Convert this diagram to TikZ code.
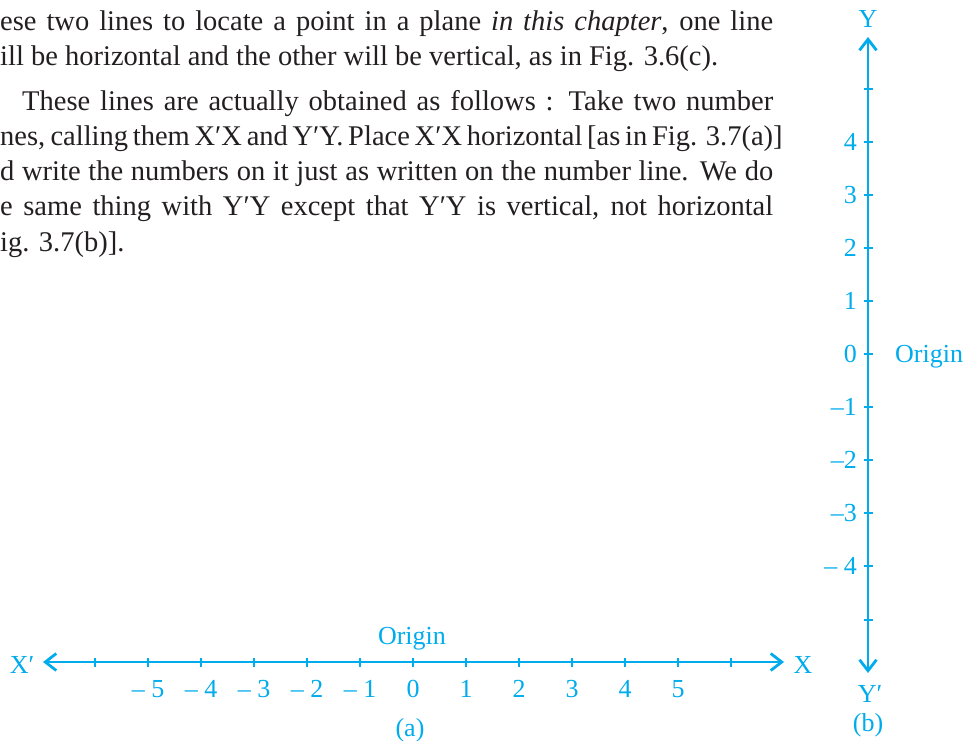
\documentclass[tikz,border=0pt]{standalone}
\usepackage{fontspec}
\setmainfont{Liberation Serif}
\usetikzlibrary{arrows.meta}
\definecolor{cy}{RGB}{0,172,236}
\definecolor{ink}{RGB}{35,31,32}
\newcommand{\bodyfnt}{\fontsize{28.5}{35}\selectfont}
\newcommand{\lblfnt}{\fontsize{26}{26}\selectfont}
\begin{document}
\begin{tikzpicture}[x=1pt,y=-1pt,
  axisline/.style={draw=cy, line width=2.8pt,
    {Straight Barb[length=11pt,width=17pt,line width=2.8pt]}-{Straight Barb[length=11pt,width=17pt,line width=2.8pt]}},
  tickmark/.style={draw=cy, line width=2pt},
  lbl/.style={text=cy, font=\lblfnt, inner sep=0pt},
  bodyline/.style={text=ink, font=\bodyfnt, inner sep=0pt, anchor=base west}]
\useasboundingbox (0,0) rectangle (965,740);

% body text
\node[bodyline] (t1) at (0,30) {\makebox[773pt][s]{ese two lines to locate a point in a plane \textit{in this chapter}, one line}};
\node[bodyline] (t2) at (0,65) {ill be horizontal and the other will be vertical, as in Fig. 3.6(c).};
\node[bodyline] (t3) at (22,110) {\makebox[751pt][s]{These lines are actually obtained as follows : Take two number}};
\node[bodyline] (t4) at (0,145) {\makebox[773pt][s]{nes, calling them X′X and Y′Y. Place X′X horizontal [as in Fig. 3.7(a)]}};
\node[bodyline] (t5) at (0,180) {\makebox[773pt][s]{d write the numbers on it just as written on the number line. We do}};
\node[bodyline] (t6) at (0,215) {\makebox[773pt][s]{e same thing with Y′Y except that Y′Y is vertical, not horizontal}};
\node[bodyline] (t7) at (0,251) {ig. 3.7(b)].};

% horizontal axis (a)
\coordinate (xl) at (43,662);
\coordinate (xr) at (784,662);
\draw[axisline] (xl) -- (xr);
\foreach \k in {-6,...,6}{
  \coordinate (hx\k) at ({413+53*\k},662);
  \draw[tickmark] ([yshift=-4.5pt]hx\k) -- ([yshift=4.5pt]hx\k);
}
\foreach \k/\t in {-5/{– 5},-4/{– 4},-3/{– 3},-2/{– 2},-1/{– 1},0/0,1/1,2/2,3/3,4/4,5/5}{
  \node[lbl, anchor=base] (hl\k) at ({413+53*\k},697) {\t};
}
\node[lbl, anchor=base] (horig) at (412,644) {Origin};
\node[lbl, anchor=base] (xlab) at (803,673) {X};
\node[lbl, anchor=base] (xplab) at (22,673) {X′};
\node[lbl, anchor=base] (alab) at (410,736) {(a)};

% vertical axis (b)
\coordinate (yt) at (868,37);
\coordinate (yb) at (868,673);
\draw[axisline] (yb) -- (yt);
\foreach \k in {-5,...,5}{
  \coordinate (vy\k) at (868,{354-53.1*\k});
  \draw[tickmark] ([xshift=-4.5pt]vy\k) -- ([xshift=4.5pt]vy\k);
}
\foreach \k/\t in {4/4,3/3,2/2,1/1,0/0,-1/{–1},-2/{–2},-3/{–3},-4/{– 4}}{
  \node[lbl, anchor=east] (vl\k) at ([xshift=-11pt]vy\k) {\t};
}
\node[lbl, anchor=base west] (vorig) at (895,362) {Origin};
\node[lbl, anchor=base] (ylab) at (868,27) {Y};
\node[lbl, anchor=base] (yplab) at (870,702) {Y′};
\node[lbl, anchor=base] (blab) at (868,731) {(b)};
\end{tikzpicture}
\end{document}
